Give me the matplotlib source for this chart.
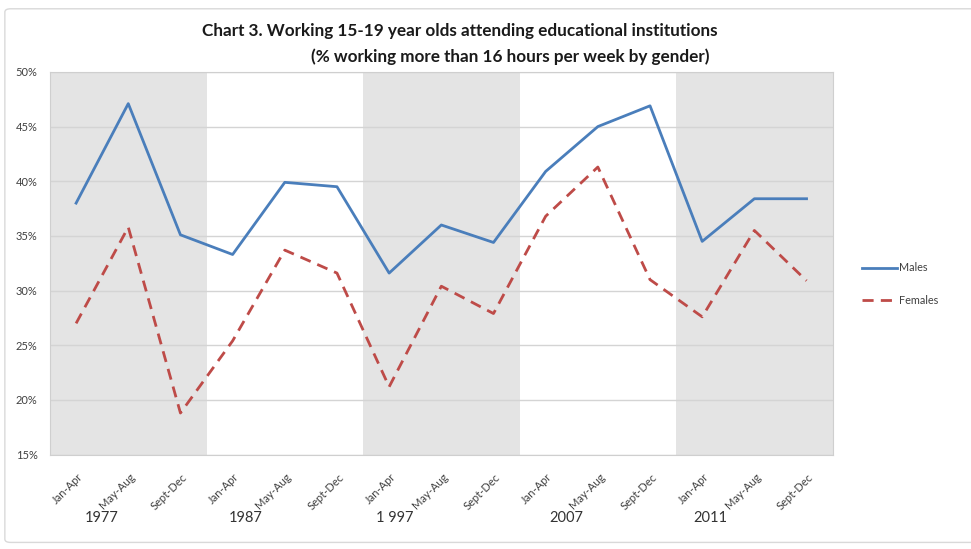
import matplotlib
matplotlib.use("Agg")
import matplotlib.pyplot as plt
from matplotlib.patches import FancyBboxPatch
from matplotlib.ticker import FuncFormatter
from matplotlib.transforms import ScaledTranslation

plt.rcParams['font.family'] = ['Lato', 'DejaVu Sans']

# data
periods = ["Jan-Apr", "May-Aug", "Sept-Dec"] * 5
years = ["1977", "1987", "1 997", "2007", "2011"]
year_pos = [0.5, 3.25, 6.1, 9.4, 12.15]
males = [38.0, 47.1, 35.1, 33.3, 39.9, 39.5, 31.6, 36.0, 34.4,
         40.9, 45.0, 46.9, 34.5, 38.4, 38.4]
females = [27.0, 35.8, 18.8, 25.4, 33.7, 31.6, 21.2, 30.4, 27.9,
           36.8, 41.3, 31.0, 27.6, 35.5, 30.9]
shaded = [0, 2, 4]  # year groups with grey background

fig = plt.figure(figsize=(9.71, 5.49), dpi=100)
ax = fig.add_axes([0.0515, 0.172, 0.806, 0.697])

# outer chart frame
frame = FancyBboxPatch((0.005, 0.012), 1.2, 0.972, boxstyle="round,pad=0,rounding_size=0.006",
                       transform=fig.transFigure, fill=False, edgecolor="#d9d9d9", lw=1)
fig.patches.append(frame)

x = list(range(len(males)))
for g in shaded:
    ax.axvspan(g * 3 - 0.5, g * 3 + 2.5, color="#e4e4e4", lw=0, zorder=0)

ax.plot(x, males, color="#4a7ebb", lw=2.0, label="Males", zorder=3)
ax.plot(x, females, color="#be4b48", lw=2.0, ls=(0, (4, 2.6)), label="Females", zorder=3)

ax.set_xlim(-0.5, len(males) - 0.5)
ax.set_ylim(15, 50)
ax.set_yticks(range(15, 51, 5))
ax.yaxis.set_major_formatter(FuncFormatter(lambda v, p: f"{v:.0f}%"))
ax.grid(axis="y", color="#d4d4d4", lw=1, zorder=1)
ax.set_axisbelow(True)
ax.tick_params(axis="y", length=0, labelsize=8, colors="#404040", pad=9)
ax.tick_params(axis="x", length=0, pad=12)

ax.set_xticks(x)
ax.set_xticklabels(periods, rotation=45, ha="right", va="top", rotation_mode="anchor",
                   fontsize=8, color="#404040")
for lab in ax.get_xticklabels():
    lab.set_transform(lab.get_transform() + ScaledTranslation(0.01, 0, fig.dpi_scale_trans))

for s in ax.spines.values():
    s.set_color("#cfcfcf")

for yl, xp in zip(years, year_pos):
    ax.text(xp, -0.165, yl, transform=ax.get_xaxis_transform(), ha="center", va="center",
            fontsize=10.5, color="#333333")

fig.text(0.474, 0.944, "Chart 3. Working 15-19 year olds attending educational institutions",
         ha="center", va="center", fontsize=12.3, fontweight="bold", color="#1a1a1a")
fig.text(0.526, 0.896, "(% working more than 16 hours per week by gender)",
         ha="center", va="center", fontsize=12.3, fontweight="bold", color="#1a1a1a")

ax.legend(loc="center left", bbox_to_anchor=(1.028, 0.445), frameon=False, fontsize=7.8,
          handlelength=3.2, handletextpad=0.2, labelspacing=2.0, borderaxespad=0.3,
          labelcolor="#404040")

fig.savefig("out.png", dpi=100)
